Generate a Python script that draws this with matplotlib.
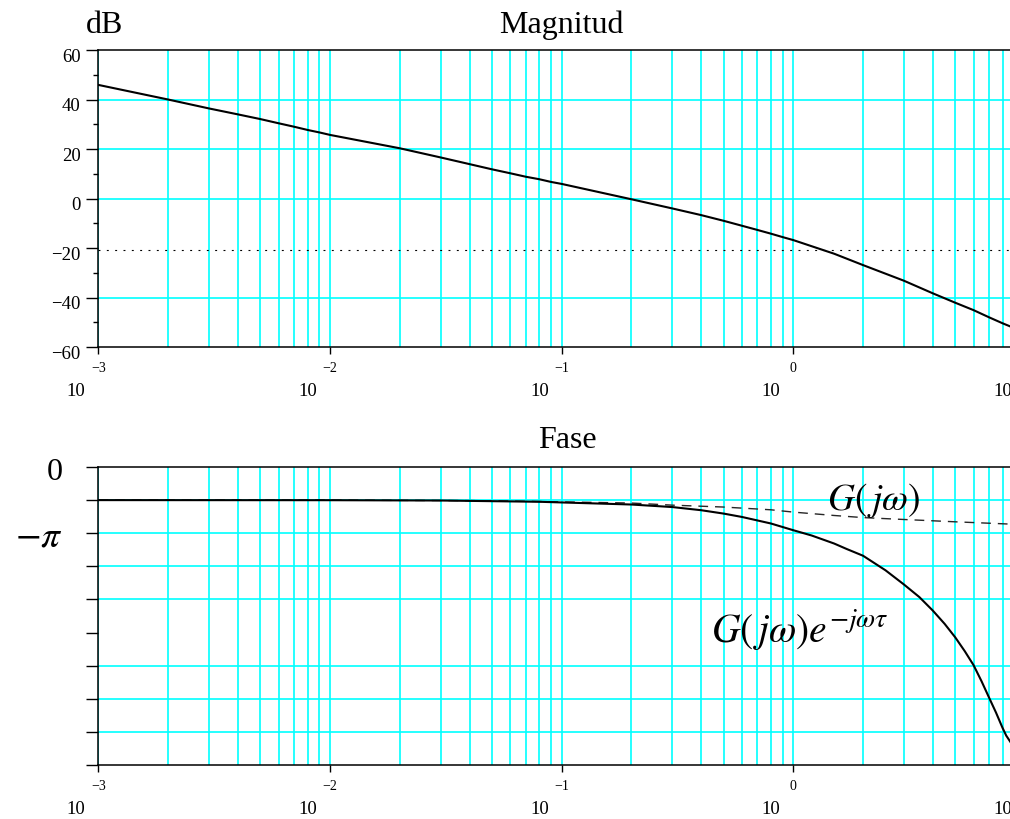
import numpy as np
import matplotlib
matplotlib.use('Agg')
import matplotlib.pyplot as plt
import matplotlib.transforms as mtransforms
from matplotlib.ticker import FixedLocator, NullLocator

plt.rcParams['font.family'] = ['Liberation Serif', 'DejaVu Serif']
plt.rcParams['mathtext.fontset'] = 'stix'
plt.rcParams['lines.scale_dashes'] = False

# Magnitude (dB)
omega_mag = [0.001, 0.002, 0.003, 0.004, 0.005, 0.006, 0.007, 0.008, 0.009,
             0.01, 0.02, 0.03, 0.04, 0.05, 0.06, 0.07, 0.08, 0.09,
             0.1, 0.2, 0.3, 0.4, 0.5, 0.6, 0.7, 0.8, 0.9,
             1.0, 1.5, 2.0, 3.0, 4.0, 5.0, 6.0, 7.0, 8.0, 8.7, 9.5]
mag_db = [45.9, 40.0, 36.4, 34.0, 32.1, 30.4, 29.0, 27.7, 26.7,
          25.7, 20.3, 16.6, 13.9, 11.8, 10.2, 8.8, 7.8, 6.7,
          5.9, -0.3, -4.0, -6.7, -9.0, -11.0, -12.7, -14.2, -15.6,
          -16.8, -22.3, -26.9, -33.2, -38.3, -42.1, -45.1, -48.0, -50.4, -51.8, -53.5]
margin_db = -20.8

# Phase (rad) of G(jw), dashed
omega_g = [0.001, 0.01, 0.05, 0.2, 0.3, 0.5, 0.8, 1.0, 1.5, 2.0, 3.0, 5.0, 8.7, 10.0]
phase_g = [-1.571, -1.573, -1.60, -1.71, -1.81, -1.90, -2.03, -2.14,
           -2.30, -2.40, -2.49, -2.60, -2.71, -2.74]

# Phase (rad) of G(jw)e^{-jwt}, solid
omega_d = [0.001, 0.01, 0.03, 0.08, 0.2, 0.3, 0.4, 0.5, 0.6, 0.8, 1.0, 1.2,
           1.5, 1.7, 2.0, 2.5, 3.0, 3.5, 4.0, 4.5, 5.0, 5.5, 6.0, 6.5, 7.0,
           7.5, 8.0, 8.3, 8.7, 9.2]
phase_d = [-1.571, -1.575, -1.59, -1.65, -1.78, -1.90, -2.05, -2.21, -2.37,
           -2.68, -3.00, -3.25, -3.63, -3.89, -4.21, -4.90, -5.57, -6.17,
           -6.81, -7.44, -8.08, -8.74, -9.40, -10.17, -10.94, -11.65, -12.37,
           -12.74, -13.08, -13.8]

decades = [1e-3, 1e-2, 1e-1, 1e0, 1e1]
exponents = ['\u22123', '\u22122', '\u22121', '0', '']
mag_ticks = [60, 40, 20, 0, -20, -40, -60]
mag_grid = [40, 20, 0, -40]
phase_ticks = [-k * np.pi / 2 for k in range(10)]
phase_grid = [-k * np.pi / 2 for k in (1, 2, 3, 4, 6, 7, 8)]

CYAN = '#00FFFF'

fig = plt.figure(figsize=(10.10, 8.19), dpi=100)
ax1 = fig.add_axes([0.0975, 0.5763, 0.9173, 0.3626])
ax2 = fig.add_axes([0.0975, 0.0659, 0.9173, 0.3639])


def setup_xaxis(ax):
    ax.set_xscale('log')
    ax.set_xlim(1e-3, 1e1)
    ax.xaxis.set_major_locator(FixedLocator(decades))
    ax.xaxis.set_minor_locator(FixedLocator(
        [m * d for d in decades[:-1] for m in range(2, 10)]))
    ax.grid(True, which='both', axis='x', color=CYAN, lw=1.2, zorder=0)
    ax.tick_params(axis='x', which='major', direction='out', length=5,
                   width=1, labelbottom=False)
    ax.tick_params(axis='x', which='minor', length=0)
    ax.spines['right'].set_visible(False)
    for s in ('left', 'top', 'bottom'):
        ax.spines[s].set_linewidth(1.1)
    ax.set_axisbelow(True)
    # "10" with the exponent above it, as in the original plot
    base = ax.get_xaxis_transform()
    t_exp = mtransforms.offset_copy(base, fig=fig, x=0, y=-21, units='dots')
    t_ten = mtransforms.offset_copy(base, fig=fig, x=-13, y=-44, units='dots')
    for d, e in zip(decades, exponents):
        if e:
            ax.text(d, 0, e, transform=t_exp, ha='center', va='center',
                    fontsize=10, clip_on=False)
        ax.text(d, 0, '10', transform=t_ten, ha='right', va='center',
                fontsize=13.5, clip_on=False)


def ylabel_text(ax, y, s, dx, dy, size):
    base = mtransforms.blended_transform_factory(ax.transAxes, ax.transData)
    t = mtransforms.offset_copy(base, fig=fig, x=dx, y=dy, units='dots')
    ax.text(0, y, s, transform=t, ha='right', va='center', fontsize=size,
            clip_on=False)


# Magnitude
setup_xaxis(ax1)
for g in mag_grid:
    ax1.axhline(g, color=CYAN, lw=1.2, zorder=0.5)
ax1.axhline(margin_db, color='k', lw=0.8, linestyle=(0, (1.4, 4.6)), zorder=1)
ax1.plot(omega_mag, mag_db, color='k', lw=1.5, zorder=2)
ax1.set_ylim(-60, 60)
ax1.set_yticks(mag_ticks)
ax1.set_yticklabels([''] * len(mag_ticks))
ax1.yaxis.set_minor_locator(FixedLocator([50, 30, 10, -10, -30, -50]))
ax1.tick_params(axis='y', which='major', direction='out', length=8.4, width=1)
ax1.tick_params(axis='y', which='minor', direction='out', length=3.6, width=1)
for v in mag_ticks:
    ylabel_text(ax1, v, str(v).replace('-', '\u2212'), -18, -7, 13.5)

# Phase
setup_xaxis(ax2)
for g in phase_grid:
    ax2.axhline(g, color=CYAN, lw=1.2, zorder=0.5)
ax2.plot(omega_g, phase_g, color='0.15', lw=1.0, linestyle=(0, (7, 5)), zorder=2)
ax2.plot(omega_d, phase_d, color='k', lw=1.5, zorder=3)
ax2.set_ylim(-4.5 * np.pi, 0)
ax2.set_yticks(phase_ticks)
ax2.set_yticklabels([''] * len(phase_ticks))
ax2.yaxis.set_minor_locator(NullLocator())
ax2.tick_params(axis='y', which='major', direction='out', length=8.4, width=1)
ylabel_text(ax2, 0, '0', -36, -6, 23)
ylabel_text(ax2, -np.pi, r'$-\pi$', -36, -4.5, 27)

ax2.text(0.836, 0.856, r'$G(\,j\omega)$', transform=ax2.transAxes,
         ha='center', va='baseline', fontsize=27)
ax2.text(0.661, 0.409, r'$G(\,j\omega)e^{-j\omega\tau}$', transform=ax2.transAxes,
         ha='left', va='baseline', fontsize=28.5)

# Titles
fig.text(0.5562, 1 - 33 / 819, 'Magnitud', ha='center', va='baseline', fontsize=23)
fig.text(567 / 1010, 1 - 448 / 819, 'Fase', ha='center', va='baseline', fontsize=23)
fig.text(86 / 1010, 1 - 33 / 819, 'dB', ha='left', va='baseline', fontsize=23)

fig.savefig('out.png', dpi=100)
